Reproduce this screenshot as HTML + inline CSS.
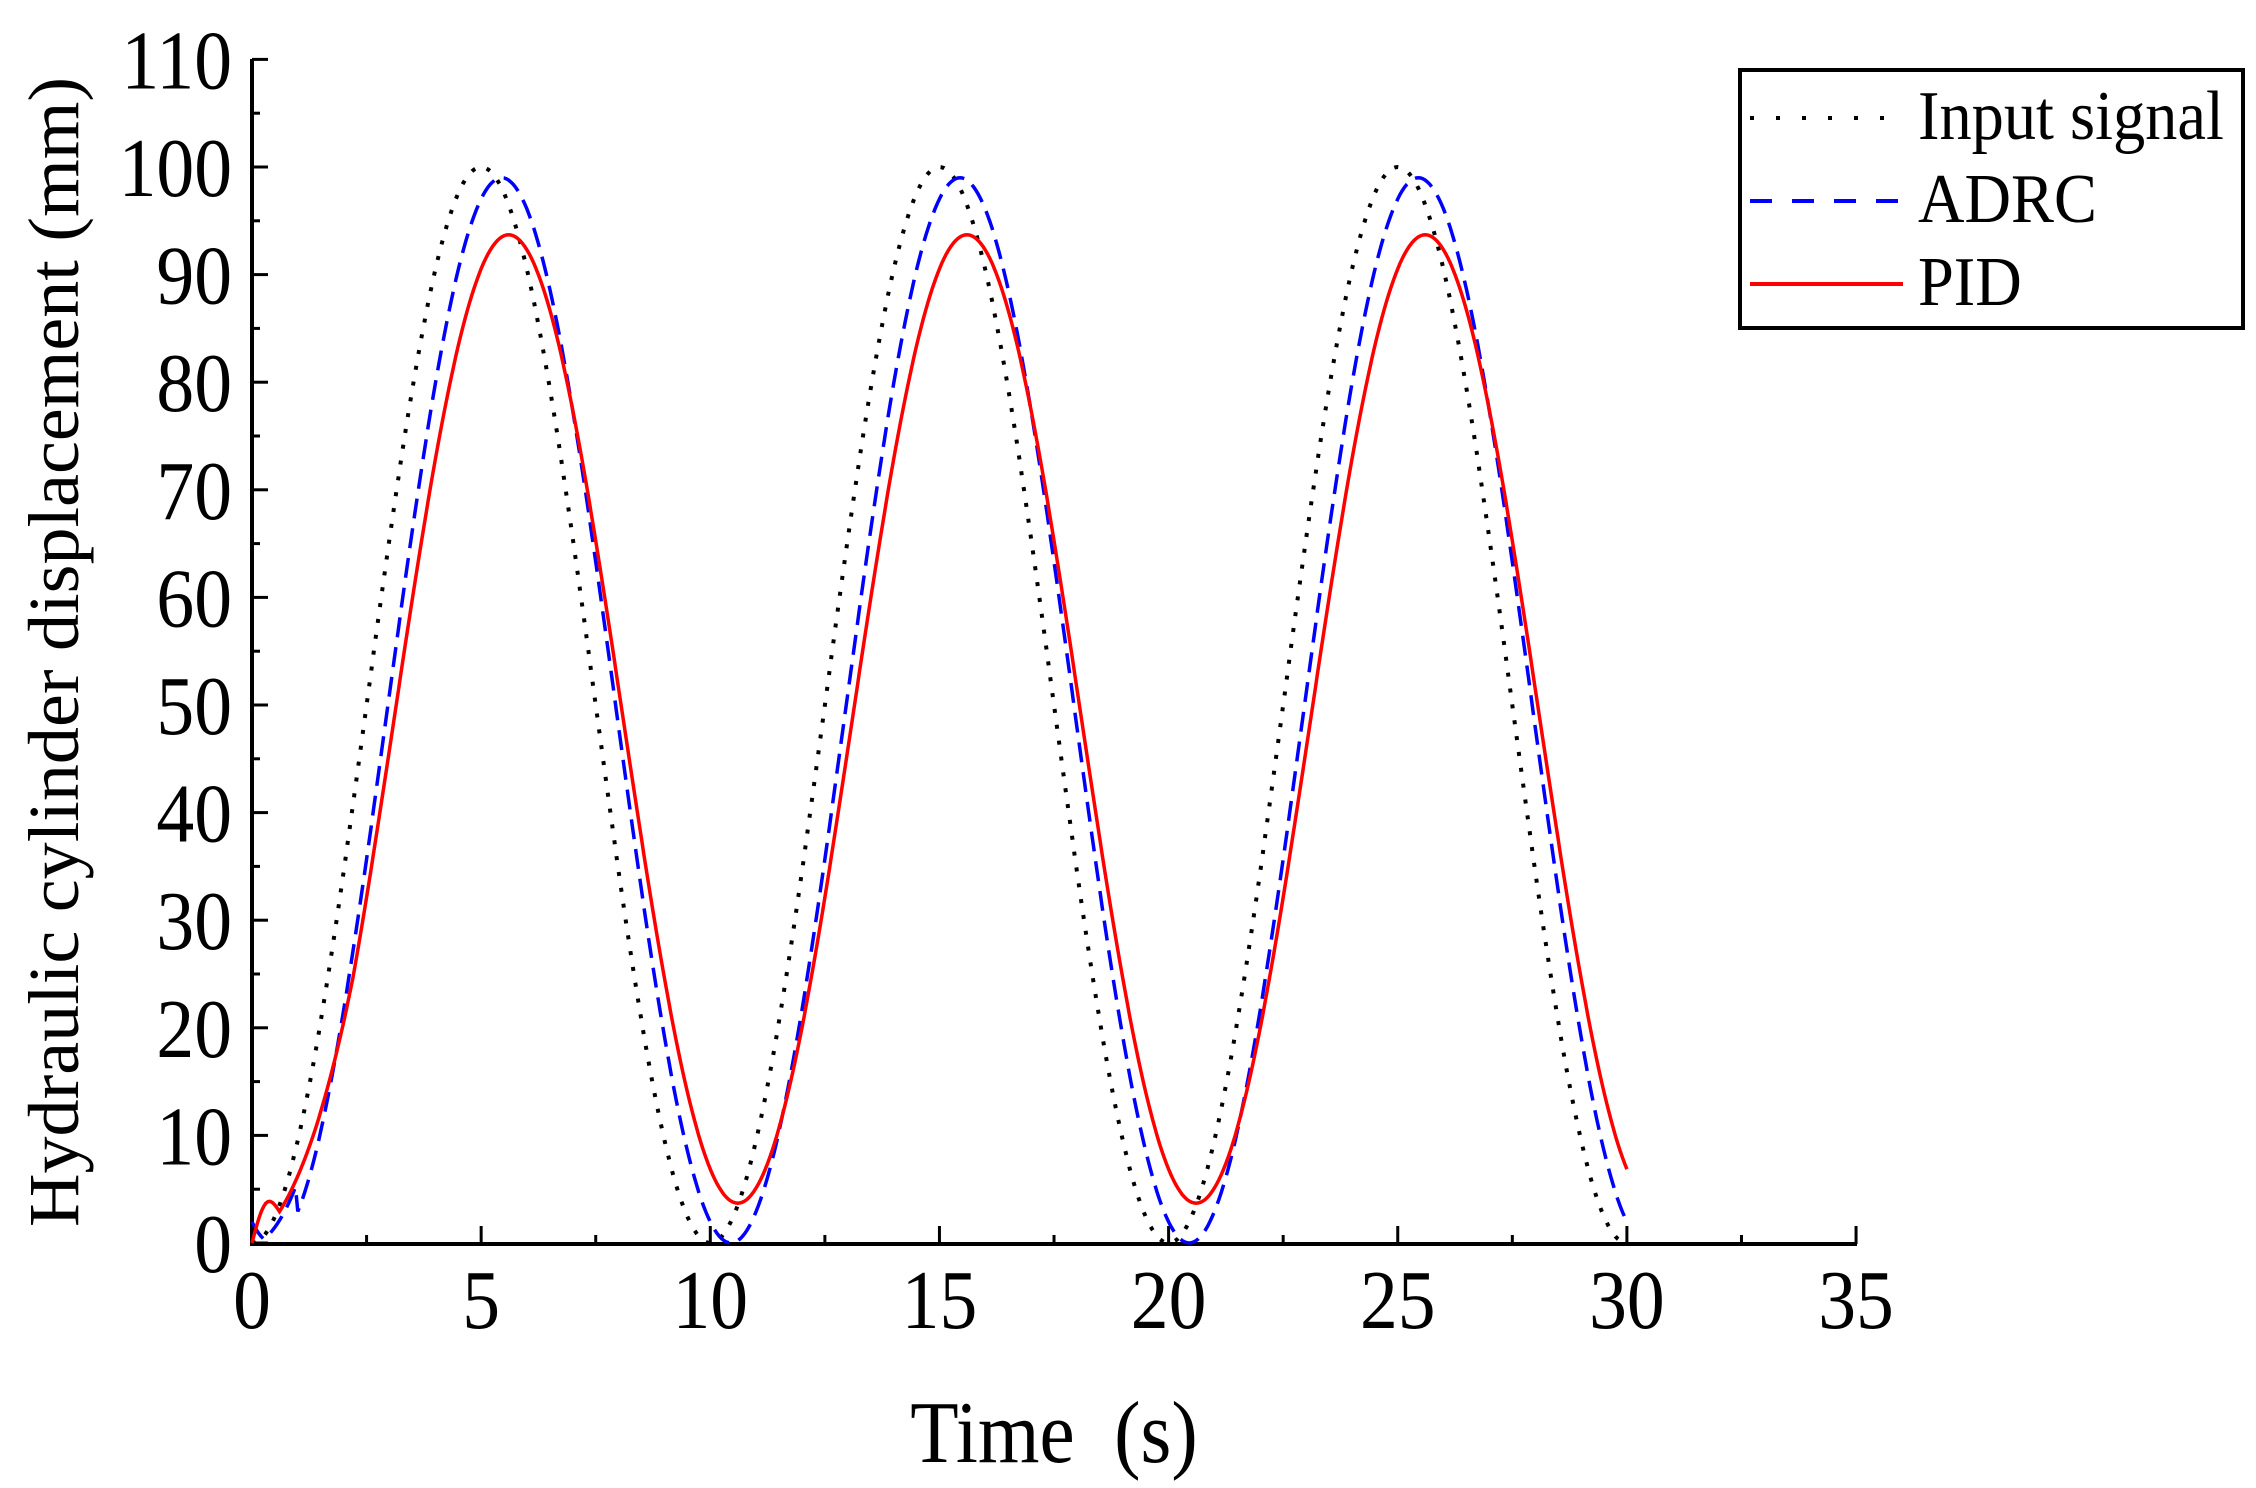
<!DOCTYPE html>
<html><head><meta charset="utf-8"><style>
html,body{margin:0;padding:0;background:#fff;}
svg{display:block;}
text{font-family:"Liberation Serif",serif;fill:#000;}
</style></head><body>
<svg id="s" width="2256" height="1488" viewBox="0 0 2256 1488" xmlns="http://www.w3.org/2000/svg">
<g id="ticks" stroke="#000" stroke-width="3"></g>
<line x1="252" y1="59" x2="252" y2="1244" stroke="#000" stroke-width="4"/>
<line x1="250" y1="1244" x2="1857" y2="1244" stroke="#000" stroke-width="4"/>
<g id="labels" font-size="84"></g>
<g id="series" fill="none"></g>
<text transform="translate(1054,1462) scale(0.9,1)" font-size="88" text-anchor="middle" xml:space="preserve">Time  (s)</text>
<text transform="translate(78,652) rotate(-90)" font-size="72" text-anchor="middle" textLength="1150" lengthAdjust="spacingAndGlyphs">Hydraulic cylinder displacement (mm)</text>
<rect x="1740" y="70" width="503" height="258" fill="#fff" stroke="#000" stroke-width="4"/>
<line x1="1750" y1="118" x2="1885" y2="118" stroke="#000" stroke-width="4" stroke-dasharray="4,22"/>
<line x1="1750" y1="201" x2="1900" y2="201" stroke="#0000ff" stroke-width="4" stroke-dasharray="22,20"/>
<line x1="1750" y1="284" x2="1903" y2="284" stroke="#ff0000" stroke-width="4"/>
<text transform="translate(1918,139) scale(0.92,1)" font-size="70">Input signal</text>
<text transform="translate(1918,222) scale(0.92,1)" font-size="70">ADRC</text>
<text transform="translate(1918,305) scale(0.92,1)" font-size="70">PID</text>
</svg>
<script>
var X0=252,Y0=1243,PX=45.83,PY=10.76;
function X(t){return X0+t*PX;}function Y(v){return Y0-v*PY;}
var tk=document.getElementById('ticks'),lb=document.getElementById('labels'),ns="http://www.w3.org/2000/svg";
function el(n,a,p,txt){var e=document.createElementNS(ns,n);for(var k in a)e.setAttribute(k,a[k]);if(txt!=null)e.textContent=txt;p.appendChild(e);return e;}
for(var i=0;i<=22;i++){var v=i*5,y=Y(v),maj=i%2==0;el('line',{x1:252,y1:y,x2:252+(maj?16:8),y2:y},tk);
 if(maj)el('text',{transform:'translate(232,'+(y+29)+') scale(0.9,1)','text-anchor':'end'},lb,String(v));}
for(var i=0;i<=14;i++){var t=i*2.5,x=X(t),maj=i%2==0;el('line',{x1:x,y1:1244,x2:x,y2:1244-(maj?18:9)},tk);
 if(maj)el('text',{transform:'translate('+x+',1328) scale(0.9,1)','text-anchor':'middle'},lb,String(t));}
function path(f){var d='';for(var t=0;t<=30.0001;t+=0.05){d+=(d?'L':'M')+X(t).toFixed(1)+','+Y(f(t)).toFixed(1);}return d;}
var c=Math.cos,P=Math.PI;
function inp(t){return 50-50*c(2*P*t/10);}
function adrc(t){var v=49.5-49.5*c(2*P*(t-0.45)/10);if(t<1)v=Math.max(v,inp(t)*0.6);return Math.max(0,v);}
function pid(t){var v=48.7-45*c(2*P*(t-0.6)/10);var s=Math.min(1,t/2.2);var r=s*v+(1-s)*inp(t)*0.75;if(t<0.6)r+=2.5*Math.sin(P*t/0.6);return Math.max(0,r);}
var g=document.getElementById('series');
el('path',{d:path(inp),stroke:'#000','stroke-width':4,'stroke-dasharray':'4,12'},g);
el('path',{d:path(adrc),stroke:'#0000ff','stroke-width':3.5,'stroke-dasharray':'20,10'},g);
el('path',{d:path(pid),stroke:'#ff0000','stroke-width':3.5},g);
</script>
</body></html>
